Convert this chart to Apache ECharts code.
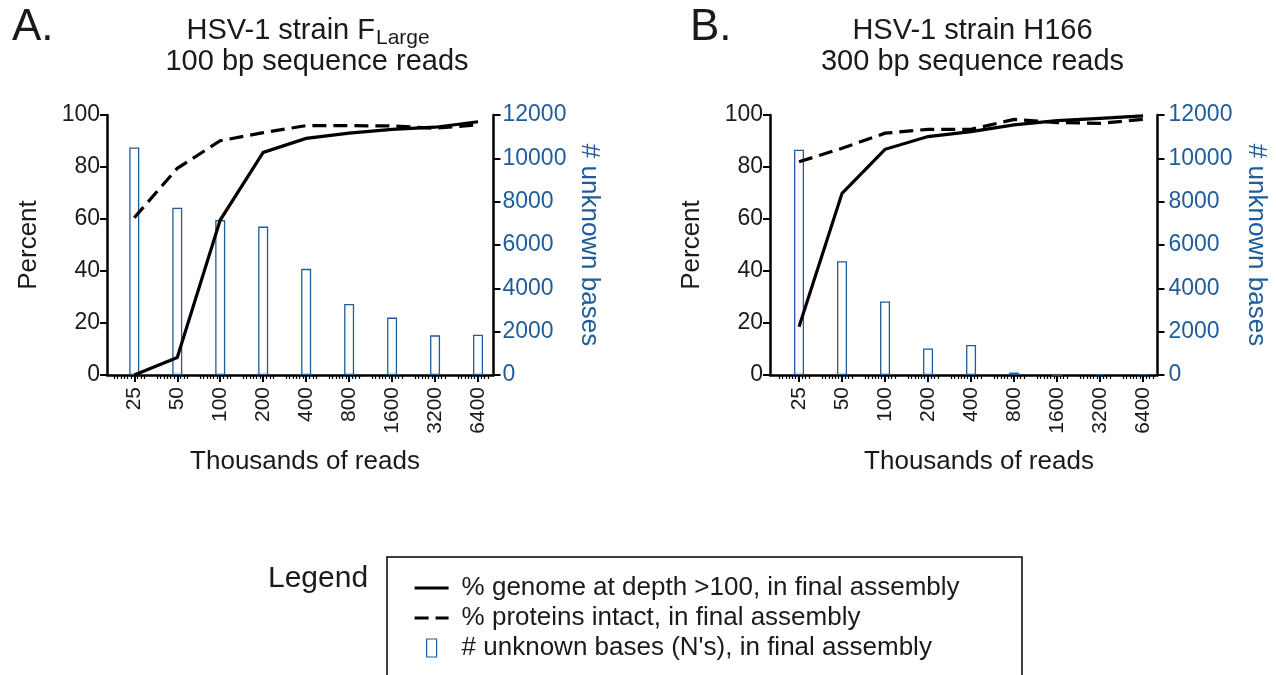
<!DOCTYPE html>
<html><head><meta charset="utf-8">
<script src="https://cdn.jsdelivr.net/npm/echarts@6/dist/echarts.min.js"></script>
<style>html,body{margin:0;padding:0;background:#fff}#c{width:1276px;height:675px}</style>
</head><body><div id="c"></div>
<script>
// ---- data ----
const categories = ['25','50','100','200','400','800','1600','3200','6400'];
const genomeA   = [0, 6.7, 59.6, 85.6, 91.0, 93.0, 94.5, 95.3, 97.4];
const proteinsA = [60.5, 79.5, 90.1, 93.2, 95.9, 95.9, 95.8, 94.9, 96.2];
const unknownA  = [10500, 7720, 7150, 6850, 4900, 3280, 2650, 1830, 1860];
const genomeB   = [18.6, 69.9, 86.8, 91.7, 93.6, 96.2, 97.8, 98.7, 99.7];
const proteinsB = [82.0, 87.2, 93.0, 94.5, 94.5, 98.3, 97.1, 96.8, 98.3];
const unknownB  = [10400, 5250, 3390, 1220, 1390, 110, 0, 40, 30];

const NAME_G = '% genome at depth >100, in final assembly';
const NAME_P = '% proteins intact, in final assembly';
const NAME_U = "# unknown bases (N's), in final assembly";

// ---- styling ----
const BLUE = '#1f5c99';
const INK = '#1a1a1a';
const FONT = '"Liberation Sans", Arial, sans-serif';
const DASH = [14,7];

const panels = [
  {left:107, width:386.5, min:-0.635, max:8.36, g:genomeA, p:proteinsA, u:unknownA, rgap:83, rmargin:9},
  {left:770, width:387.5, min:-0.675, max:8.335, g:genomeB, p:proteinsB, u:unknownB, rgap:86, rmargin:11}
];
const idx = categories.map((c,i)=>i);
const minorVals = [];
idx.forEach(i=>[-6,-5,-4,-3,-2,-1,1,2,3].forEach(k=>minorVals.push(+(i+k*0.077).toFixed(3))));

const grid=[], xAxis=[], yAxis=[], series=[];
panels.forEach((P,k)=>{
  grid.push({left:P.left, top:115, width:P.width, height:260, containLabel:false, outerBoundsMode:'none'});
  xAxis.push({type:'value', gridIndex:k, position:'bottom', min:P.min, max:P.max,
    axisLine:{show:true,onZero:false,lineStyle:{color:'#000',width:2.5}},
    axisTick:{show:true,customValues:idx,length:7,lineStyle:{color:'#000',width:2}},
    axisLabel:{show:true,customValues:idx,rotate:90,margin:12,fontSize:21,color:INK,fontFamily:FONT,
      formatter:v=>categories[Math.round(v)]},
    splitLine:{show:false}});
  xAxis.push({type:'value', gridIndex:k, position:'bottom', min:P.min, max:P.max,
    axisLine:{show:false},
    axisTick:{show:true,customValues:minorVals,length:4,lineStyle:{color:'#000',width:1.2}},
    axisLabel:{show:false}, splitLine:{show:false}});
  yAxis.push({type:'value', gridIndex:k, position:'left', min:0, max:100, interval:20,
    axisLine:{show:true,onZero:false,lineStyle:{color:'#000',width:2.5}},
    axisTick:{show:true,length:7,lineStyle:{color:'#000',width:2}},
    axisLabel:{margin:7,fontSize:23,color:INK,fontFamily:FONT,formatter:v=>String(v)},
    splitLine:{show:false},
    name:'Percent', nameLocation:'middle', nameRotate:90, nameGap:65, nameMoveOverlap:false,
    nameTextStyle:{fontSize:26,color:INK,fontFamily:FONT}});
  yAxis.push({type:'value', gridIndex:k, position:'right', min:0, max:12000, interval:2000,
    axisLine:{show:true,onZero:false,lineStyle:{color:'#000',width:2.5}},
    axisTick:{show:true,length:7,lineStyle:{color:'#000',width:2}},
    axisLabel:{margin:P.rmargin,fontSize:23,color:BLUE,fontFamily:FONT,formatter:v=>String(v)},
    splitLine:{show:false},
    name:'# unknown bases', nameLocation:'middle', nameRotate:-90, nameGap:P.rgap, nameMoveOverlap:false,
    nameTextStyle:{fontSize:26,color:BLUE,fontFamily:FONT}});
  series.push({type:'bar', name:NAME_U, xAxisIndex:2*k, yAxisIndex:2*k+1, barWidth:10,
    data:P.u.map((v,i)=>[i,v]), itemStyle:{color:'#fff',borderColor:BLUE,borderWidth:1.3},
    emphasis:{disabled:true}, silent:true, z:1});
  series.push({type:'line', name:NAME_G, xAxisIndex:2*k, yAxisIndex:2*k,
    data:P.g.map((v,i)=>[i,v]), symbol:'none', itemStyle:{color:'#000'},
    lineStyle:{color:'#000',width:3.2,type:'solid',cap:'butt',join:'miter'},
    emphasis:{disabled:true}, silent:true, z:3});
  series.push({type:'line', name:NAME_P, xAxisIndex:2*k, yAxisIndex:2*k,
    data:P.p.map((v,i)=>[i,v]), symbol:'none', itemStyle:{color:'#000'},
    lineStyle:{color:'#000',width:3.2,type:DASH,cap:'butt',join:'miter'},
    emphasis:{disabled:true}, silent:true, z:3});
});

function txt(text, x, y, size, align, color){
  return {type:'text', x:x, y:y, silent:true,
    style:{text:text, fill:color||INK, font:size+'px '+FONT, textAlign:align||'left', textVerticalAlign:'middle'}};
}
const HIDE = {color:'rgba(0,0,0,0)', borderColor:'rgba(0,0,0,0)', borderWidth:0};

const chart = echarts.init(document.getElementById('c'));
chart.setOption({
  animation:false,
  backgroundColor:'#fff',
  grid:grid, xAxis:xAxis, yAxis:yAxis, series:series,
  legend:{show:true, orient:'vertical', left:387, top:557, padding:[16,0,0,26],
    itemWidth:34, itemHeight:18, itemGap:0, borderWidth:0,
    selectedMode:false,
    data:[{name:NAME_G, itemStyle:HIDE, lineStyle:{color:'#000',width:3.2,type:'solid'}},
          {name:NAME_P, itemStyle:HIDE, lineStyle:{color:'#000',width:3.2,type:DASH}},
          {name:NAME_U, icon:'path://M12 0L22 0L22 18L12 18Z M0 0 M34 18',
            itemStyle:{color:'#fff',borderColor:BLUE,borderWidth:1.2}}],
    textStyle:{fontSize:26,color:INK,fontFamily:FONT,lineHeight:30,padding:[0,0,0,8]}},
  graphic:[
    {type:'rect', silent:true, shape:{x:387, y:557, width:635, height:160},
      style:{fill:'none', stroke:'#000', lineWidth:1.5}},
    txt('A.', 12, 28, 44),
    txt('B.', 690, 28, 44),
    txt('HSV-1 strain F', 375, 31, 29, 'right'),
    txt('Large', 376, 38, 21, 'left'),
    txt('100 bp sequence reads', 317, 62, 29, 'center'),
    txt('HSV-1 strain H166', 972.5, 31, 29, 'center'),
    txt('300 bp sequence reads', 972.5, 62, 29, 'center'),
    txt('Thousands of reads', 305, 462, 26, 'center'),
    txt('Thousands of reads', 979, 462, 26, 'center'),
    txt('Legend', 268, 579, 30, 'left')
  ]
});
</script></body></html>
